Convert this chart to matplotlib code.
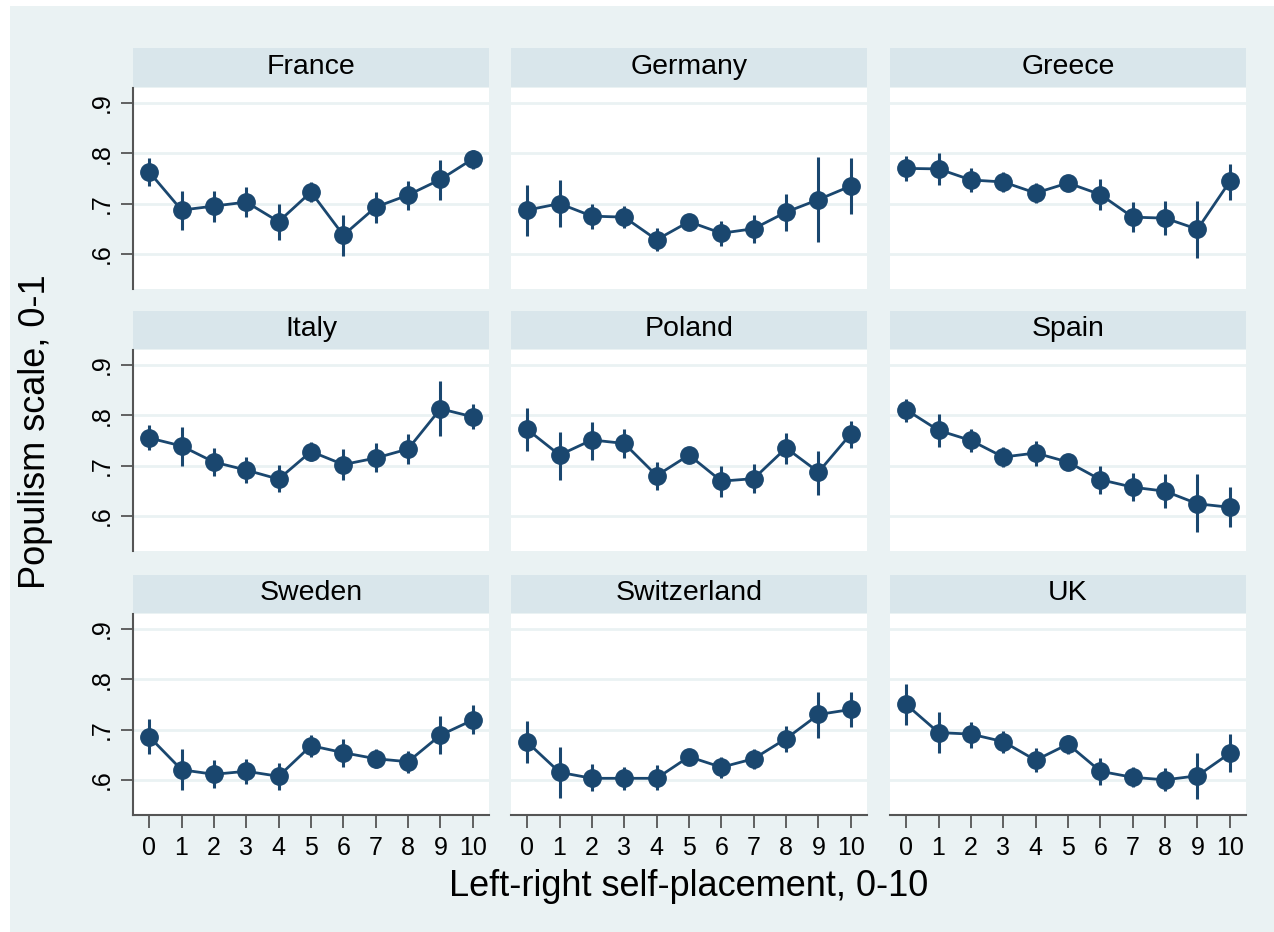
import matplotlib
matplotlib.use("Agg")
import matplotlib.pyplot as plt
from matplotlib.patches import Rectangle

plt.rcParams['font.family'] = ['Liberation Sans', 'DejaVu Sans']

# left-right self-placement
x = list(range(11))
countries = ["France", "Germany", "Greece", "Italy", "Poland", "Spain",
             "Sweden", "Switzerland", "UK"]

# mean populism score with 95% CI
france = [0.763, 0.687, 0.695, 0.703, 0.664, 0.723, 0.637, 0.693, 0.717, 0.748, 0.789]
france_lo = [0.735, 0.647, 0.663, 0.673, 0.627, 0.703, 0.595, 0.661, 0.688, 0.708, 0.769]
france_hi = [0.790, 0.726, 0.726, 0.733, 0.700, 0.743, 0.678, 0.724, 0.745, 0.787, 0.807]

germany = [0.687, 0.700, 0.675, 0.673, 0.628, 0.664, 0.641, 0.650, 0.683, 0.708, 0.735]
germany_lo = [0.636, 0.653, 0.650, 0.651, 0.605, 0.655, 0.616, 0.621, 0.645, 0.623, 0.679]
germany_hi = [0.737, 0.747, 0.699, 0.695, 0.651, 0.675, 0.665, 0.678, 0.720, 0.793, 0.791]

greece = [0.770, 0.769, 0.747, 0.743, 0.721, 0.741, 0.718, 0.673, 0.671, 0.649, 0.744]
greece_lo = [0.745, 0.736, 0.723, 0.723, 0.701, 0.731, 0.688, 0.643, 0.637, 0.591, 0.708]
greece_hi = [0.795, 0.801, 0.771, 0.763, 0.740, 0.751, 0.748, 0.703, 0.706, 0.706, 0.778]

italy = [0.755, 0.739, 0.707, 0.691, 0.673, 0.728, 0.702, 0.715, 0.733, 0.813, 0.797]
italy_lo = [0.731, 0.700, 0.680, 0.665, 0.647, 0.709, 0.672, 0.687, 0.704, 0.759, 0.772]
italy_hi = [0.781, 0.777, 0.734, 0.717, 0.701, 0.747, 0.732, 0.744, 0.763, 0.869, 0.823]

poland = [0.772, 0.721, 0.751, 0.744, 0.680, 0.721, 0.669, 0.674, 0.735, 0.687, 0.763]
poland_lo = [0.729, 0.672, 0.712, 0.715, 0.651, 0.713, 0.637, 0.645, 0.704, 0.641, 0.735]
poland_hi = [0.814, 0.767, 0.787, 0.772, 0.707, 0.729, 0.699, 0.703, 0.765, 0.729, 0.789]

spain = [0.811, 0.770, 0.750, 0.717, 0.725, 0.707, 0.672, 0.657, 0.649, 0.624, 0.617]
spain_lo = [0.787, 0.737, 0.727, 0.697, 0.700, 0.699, 0.643, 0.629, 0.615, 0.567, 0.577]
spain_hi = [0.832, 0.802, 0.772, 0.736, 0.749, 0.715, 0.699, 0.685, 0.683, 0.683, 0.657]

sweden = [0.686, 0.620, 0.611, 0.617, 0.607, 0.668, 0.654, 0.642, 0.636, 0.689, 0.719]
sweden_lo = [0.652, 0.579, 0.583, 0.591, 0.579, 0.646, 0.626, 0.623, 0.613, 0.651, 0.691]
sweden_hi = [0.721, 0.661, 0.639, 0.641, 0.634, 0.689, 0.681, 0.661, 0.658, 0.728, 0.748]

switzerland = [0.675, 0.615, 0.603, 0.603, 0.603, 0.646, 0.625, 0.642, 0.682, 0.730, 0.740]
switzerland_lo = [0.633, 0.563, 0.577, 0.580, 0.579, 0.638, 0.603, 0.621, 0.656, 0.684, 0.706]
switzerland_hi = [0.717, 0.666, 0.631, 0.626, 0.629, 0.654, 0.646, 0.662, 0.707, 0.775, 0.774]

uk = [0.750, 0.694, 0.691, 0.676, 0.639, 0.671, 0.617, 0.605, 0.600, 0.608, 0.653]
uk_lo = [0.709, 0.654, 0.664, 0.654, 0.615, 0.652, 0.590, 0.585, 0.577, 0.562, 0.615]
uk_hi = [0.790, 0.734, 0.716, 0.697, 0.663, 0.689, 0.643, 0.626, 0.623, 0.653, 0.691]

series = [(france, france_lo, france_hi), (germany, germany_lo, germany_hi),
          (greece, greece_lo, greece_hi), (italy, italy_lo, italy_hi),
          (poland, poland_lo, poland_hi), (spain, spain_lo, spain_hi),
          (sweden, sweden_lo, sweden_hi), (switzerland, switzerland_lo, switzerland_hi),
          (uk, uk_lo, uk_hi)]

yticks = [0.6, 0.7, 0.8, 0.9]
ytick_labels = [".6", ".7", ".8", ".9"]

W, H = 1274, 932
navy = "#1a476f"
graph_bg = "#eaf2f3"
strip_bg = "#d9e6eb"
axis_col = "#555555"

fig = plt.figure(figsize=(W / 100, H / 100), dpi=100, facecolor="white")
fig.patches.append(Rectangle((10 / W, 0), 1, 1 - 6 / H, transform=fig.transFigure,
                             facecolor=graph_bg, edgecolor="none", zorder=-10))

col_x = [133, 511, 890]
col_w = 356
row_top = [88, 350, 614]
row_h = 201
strip_h = 38

for i, name in enumerate(countries):
    r, c = divmod(i, 3)
    left = col_x[c] / W
    bottom = 1 - (row_top[r] + row_h) / H
    ax = fig.add_axes([left, bottom, col_w / W, row_h / H])
    ax.set_facecolor("white")
    mean, lo, hi = series[i]
    ax.vlines(x, lo, hi, color=navy, linewidth=2.2, zorder=3)
    ax.plot(x, mean, color=navy, linewidth=2, marker="o", markersize=12.5,
            zorder=4)
    ax.set_xlim(-0.5, 10.5)
    ax.set_ylim(0.53, 0.93)
    for yv in yticks:
        ax.axhline(yv, color=graph_bg, linewidth=2, zorder=1)

    for s in ax.spines.values():
        s.set_visible(False)
    if c == 0:
        ax.spines["left"].set_visible(True)
        ax.spines["left"].set_color(axis_col)
        ax.spines["left"].set_linewidth(1.5)
        ax.set_yticks(yticks)
        ax.set_yticklabels(ytick_labels, rotation=90, va="center", fontsize=18)
        ax.tick_params(axis="y", length=9, width=1.3, color=axis_col, pad=5)
    else:
        ax.set_yticks([])
    if r == 2:
        ax.spines["bottom"].set_visible(True)
        ax.spines["bottom"].set_color(axis_col)
        ax.spines["bottom"].set_linewidth(1.5)
        ax.set_xticks(x)
        ax.set_xticklabels([str(v) for v in x], fontsize=18)
        ax.tick_params(axis="x", length=9, width=1.3, color=axis_col, pad=6)
    else:
        ax.set_xticks([])

    # strip header
    sh = strip_h / row_h
    ax.add_patch(Rectangle((0, 1 + 1.5 / row_h), 1, sh, transform=ax.transAxes,
                           facecolor=strip_bg, edgecolor="none", clip_on=False))
    ax.text(0.5, 1 + 1.5 / row_h + sh / 2, name, transform=ax.transAxes,
            ha="center", va="center", fontsize=20.5)

fig.text(689 / W, 1 - 886 / H, "Left-right self-placement, 0-10",
         ha="center", va="center", fontsize=26)
fig.text(36 / W, 1 - 432 / H, "Populism scale, 0-1", rotation=90,
         ha="center", va="center", fontsize=26)

fig.savefig("out.png", dpi=100, facecolor=fig.get_facecolor())
